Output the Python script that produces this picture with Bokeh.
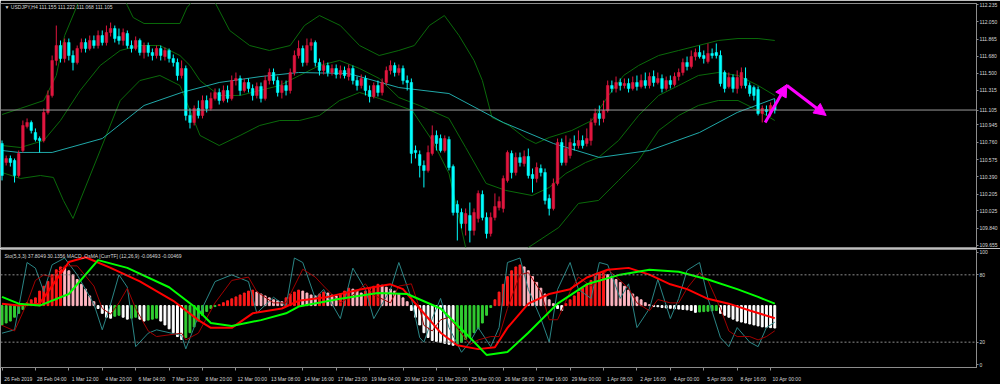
from bokeh.plotting import figure
from bokeh.layouts import column
from bokeh.models import (Range1d, FixedTicker, Span, Label, Arrow, NormalHead,
                          NumeralTickFormatter, ColumnDataSource)
from bokeh.embed import file_html
from bokeh.resources import INLINE

# ---------------- data ----------------
symbol_title = "\u25bc USDJPY,H4  111.155 111.222 111.068 111.105"
osc_title = "Sto(5,3,3) 37.8049 30.1356  MACD_OsMA [CurrTF] (12,26,9) -0.06493 -0.00469"
last_price = 111.105
price_ticks = [112.235, 112.050, 111.865, 111.680, 111.500, 111.315, 111.105, 110.945, 110.760,
               110.575, 110.390, 110.205, 110.025, 109.840, 109.655]
osc_ticks = [0, 20, 80, 100]
osc_levels = [80, 20]
time_labels = ["26 Feb 2019", "28 Feb 04:00", "1 Mar 12:00", "4 Mar 20:00", "6 Mar 04:00",
               "7 Mar 12:00", "8 Mar 20:00", "12 Mar 00:00", "13 Mar 08:00", "14 Mar 16:00",
               "17 Mar 23:00", "19 Mar 04:00", "20 Mar 12:00", "21 Mar 20:00", "25 Mar 00:00",
               "26 Mar 08:00", "27 Mar 16:00", "29 Mar 00:00", "1 Apr 08:00", "2 Apr 16:00",
               "4 Apr 00:00", "5 Apr 08:00", "8 Apr 16:00", "10 Apr 00:00"]
time_tick_bars = [8 * k for k in range(len(time_labels))]

opens = [110.747,110.543,110.586,110.565,110.404,110.672,110.929,110.972,110.865,110.800,
         110.779,111.079,111.261,111.636,111.796,111.657,111.828,111.689,111.614,111.764,
         111.828,111.764,111.850,111.796,111.903,111.828,111.935,111.978,111.893,111.850,
         111.925,111.796,111.764,111.850,111.721,111.796,111.721,111.689,111.764,111.678,
         111.743,111.657,111.614,111.475,111.550,111.047,110.972,111.122,111.047,111.207,
         111.122,111.229,111.293,111.207,111.314,111.229,111.421,111.443,111.314,111.400,
         111.336,111.261,111.357,111.229,111.421,111.507,111.421,111.293,111.368,111.314,
         111.507,111.689,111.764,111.614,111.796,111.828,111.614,111.529,111.582,111.507,
         111.550,111.486,111.529,111.464,111.550,111.421,111.368,111.443,111.314,111.250,
         111.368,111.293,111.400,111.529,111.582,111.507,111.550,111.421,111.400,110.672,
         110.629,110.511,110.458,110.640,110.833,110.800,110.672,110.790,110.500,110.094,
         110.008,109.890,109.976,109.816,109.944,110.201,109.955,109.783,109.955,110.062,
         110.051,110.351,110.640,110.436,110.597,110.533,110.608,110.415,110.372,110.479,
         110.436,110.158,110.051,110.319,110.758,110.543,110.618,110.747,110.725,110.779,
         110.747,110.779,110.972,111.068,111.015,111.100,111.368,111.336,111.400,111.368,
         111.389,111.336,111.400,111.357,111.421,111.368,111.464,111.400,111.443,111.336,
         111.421,111.379,111.464,111.507,111.614,111.571,111.678,111.721,111.689,111.625,
         111.711,111.721,111.689,111.507,111.357,111.454,111.336,111.368,111.443,111.368,
         111.346,111.325,111.068,111.111,111.079,111.155]
highs = [110.779,110.618,110.618,110.586,110.672,110.993,111.015,110.993,110.908,110.822,
         111.122,111.314,111.689,112.010,111.850,111.871,111.871,111.743,111.796,111.871,
         111.871,111.903,111.903,111.957,111.957,112.010,112.042,112.010,111.978,111.978,
         111.957,111.850,111.893,111.871,111.828,111.828,111.764,111.796,111.796,111.775,
         111.764,111.700,111.657,111.636,111.582,111.122,111.154,111.207,111.261,111.261,
         111.293,111.336,111.336,111.368,111.368,111.475,111.507,111.475,111.443,111.443,
         111.379,111.400,111.400,111.475,111.550,111.550,111.464,111.421,111.421,111.550,
         111.743,111.850,111.796,111.871,111.871,111.850,111.657,111.636,111.614,111.593,
         111.593,111.582,111.571,111.593,111.582,111.464,111.486,111.475,111.368,111.400,
         111.421,111.443,111.571,111.636,111.614,111.593,111.582,111.475,111.443,110.725,
         110.672,110.565,110.725,110.940,110.886,110.843,110.833,110.822,110.522,110.137,
         110.051,110.051,110.115,110.051,110.244,110.244,110.008,110.008,110.212,110.179,
         110.404,110.672,110.672,110.650,110.650,110.672,110.693,110.479,110.543,110.522,
         110.479,110.201,110.372,110.800,110.800,110.833,110.800,110.833,110.886,110.833,
         110.908,111.015,111.122,111.154,111.207,111.421,111.421,111.464,111.443,111.443,
         111.443,111.464,111.475,111.486,111.507,111.507,111.529,111.507,111.486,111.464,
         111.475,111.507,111.550,111.657,111.678,111.743,111.764,111.796,111.743,111.818,
         111.764,111.818,111.743,111.529,111.507,111.486,111.529,111.561,111.561,111.400,
         111.368,111.357,111.154,111.154,111.186,111.222]
lows = [110.351,110.511,110.500,110.329,110.383,110.650,110.908,110.854,110.768,110.650,
        110.758,111.057,111.239,111.582,111.614,111.614,111.636,111.529,111.593,111.721,
        111.721,111.743,111.764,111.764,111.796,111.796,111.893,111.828,111.807,111.796,
        111.764,111.721,111.743,111.689,111.657,111.678,111.636,111.657,111.636,111.636,
        111.614,111.571,111.421,111.443,110.993,110.908,110.940,111.015,111.015,111.079,
        111.100,111.207,111.164,111.186,111.186,111.207,111.368,111.261,111.293,111.293,
        111.207,111.229,111.186,111.207,111.379,111.379,111.250,111.229,111.261,111.282,
        111.475,111.657,111.571,111.582,111.743,111.571,111.475,111.486,111.464,111.475,
        111.443,111.443,111.443,111.421,111.379,111.314,111.336,111.261,111.186,111.229,
        111.250,111.261,111.368,111.486,111.464,111.475,111.379,111.314,110.533,110.586,
        110.383,110.276,110.436,110.618,110.672,110.650,110.650,110.458,109.976,109.708,
        109.837,109.762,109.687,109.762,109.901,109.923,109.730,109.751,109.923,110.030,
        110.008,110.329,110.372,110.404,110.500,110.500,110.372,110.222,110.329,110.394,
        110.094,109.976,110.030,110.297,110.511,110.511,110.586,110.672,110.693,110.693,
        110.715,110.725,110.940,110.940,110.972,111.079,111.293,111.293,111.314,111.336,
        111.293,111.314,111.314,111.336,111.336,111.336,111.357,111.379,111.293,111.314,
        111.336,111.357,111.421,111.475,111.529,111.550,111.636,111.657,111.603,111.603,
        111.657,111.657,111.357,111.293,111.336,111.293,111.282,111.336,111.336,111.250,
        111.207,111.047,110.972,111.047,111.036,111.068]
closes = [110.404,110.586,110.543,110.404,110.640,110.940,110.972,110.886,110.790,110.779,
          111.079,111.261,111.636,111.796,111.657,111.828,111.689,111.614,111.764,111.828,
          111.764,111.850,111.796,111.903,111.828,111.935,111.978,111.871,111.850,111.935,
          111.796,111.764,111.850,111.721,111.796,111.721,111.689,111.764,111.689,111.743,
          111.657,111.614,111.475,111.550,111.047,110.972,111.122,111.047,111.207,111.122,
          111.229,111.293,111.207,111.314,111.229,111.421,111.443,111.314,111.400,111.336,
          111.261,111.357,111.229,111.421,111.507,111.421,111.293,111.368,111.314,111.507,
          111.689,111.764,111.614,111.796,111.828,111.614,111.529,111.582,111.507,111.550,
          111.486,111.529,111.475,111.550,111.421,111.368,111.443,111.314,111.250,111.368,
          111.293,111.400,111.529,111.582,111.507,111.550,111.421,111.400,110.640,110.650,
          110.511,110.458,110.650,110.833,110.747,110.672,110.800,110.490,110.008,110.008,
          109.890,109.997,109.816,110.008,110.212,109.955,109.783,109.955,110.072,110.126,
          110.372,110.650,110.436,110.597,110.543,110.608,110.404,110.372,110.490,110.436,
          110.137,110.051,110.319,110.758,110.543,110.693,110.758,110.725,110.779,110.725,
          110.800,110.972,111.068,111.015,111.100,111.368,111.336,111.400,111.368,111.389,
          111.336,111.400,111.357,111.421,111.368,111.464,111.400,111.443,111.336,111.421,
          111.379,111.464,111.507,111.614,111.571,111.678,111.721,111.678,111.657,111.711,
          111.689,111.689,111.389,111.336,111.454,111.336,111.454,111.507,111.368,111.282,
          111.261,111.068,111.122,111.090,111.154,111.105]

ma_bar = [0, 4, 12, 24, 34, 43, 52, 62, 71, 83, 95, 107, 120, 132, 143, 155, 167, 176, 185]
ma_price = [110.672, 110.651, 110.651, 110.800, 111.154, 111.293, 111.400, 111.464, 111.507,
            111.496, 111.346, 111.282, 110.972, 110.747, 110.597, 110.672, 110.865, 111.079, 111.229]

bb_up_bar = [0, 4.4, 10, 13, 15, 18, 21, 25, 28, 30, 31.4, 34, 42.6, 44.3, 47.4, 51, 54.5, 59.3,
             64, 69, 72.4, 76, 81, 85.6, 90.3, 95, 98.7, 102.3, 105.9, 109.4, 113, 115, 117.3,
             121.4, 125.4, 127.8, 131, 136.4, 141.2, 145.2, 148.8, 152.4, 157.2, 162, 166.7,
             171.5, 176.2, 181, 185]
bb_up = [111.057, 111.122, 111.207, 111.475, 111.903, 112.225, 112.599, 112.653, 112.439,
         112.225, 112.096, 112.032, 112.032, 112.203, 112.364, 112.257, 111.957, 111.796,
         111.743, 111.796, 112.010, 112.117, 112.010, 111.796, 111.689, 111.743, 111.796,
         112.010, 112.117, 111.903, 111.636, 111.421, 111.025, 110.940, 110.800, 110.747,
         110.811, 110.886, 110.993, 111.261, 111.475, 111.582, 111.689, 111.743, 111.796,
         111.850, 111.871, 111.871, 111.850]
bb_mid_bar = [0, 4.4, 10, 14, 18.7, 23.5, 28.3, 33, 37.8, 42.6, 45, 47.4, 52, 57, 61.7, 66.5,
              71.2, 76, 80.8, 85.6, 90.3, 95, 99.9, 107, 111, 115.9, 120.6, 126.9, 131, 135,
              139.7, 142.8, 147.6, 152.4, 157.2, 162, 166.7, 171.5, 176.2, 181, 185]
bb_mid = [110.725, 110.704, 110.779, 110.993, 111.314, 111.582, 111.743, 111.796, 111.796,
          111.689, 111.582, 111.421, 111.261, 111.261, 111.314, 111.368, 111.475, 111.582,
          111.636, 111.550, 111.443, 111.239, 111.154, 111.015, 110.704, 110.319, 110.244,
          110.190, 110.276, 110.426, 110.543, 110.597, 110.779, 111.047, 111.261, 111.368,
          111.475, 111.507, 111.475, 111.368, 111.261]
bb_lo_bar = [0, 4.4, 9.2, 12.3, 14.7, 17, 18.7, 23.5, 28.3, 33, 37.8, 42.6, 45, 47.4, 52, 57,
             61.7, 66.5, 71.2, 76, 80.8, 85.6, 90.3, 95, 98.2, 103, 107, 111, 114, 119, 122.6,
             126, 133.3, 138, 142.8, 147.6, 152.4, 157.2, 162, 166.7, 171.5, 176.2, 181, 185]
bb_lo = [110.436, 110.372, 110.404, 110.383, 110.137, 109.944, 110.137, 110.672, 111.207,
         111.421, 111.475, 111.368, 111.100, 110.833, 110.725, 110.833, 110.940, 110.993,
         110.993, 111.047, 111.207, 111.293, 111.229, 111.154, 111.100, 110.779, 110.426,
         109.633, 109.387, 109.334, 109.441, 109.633, 109.848, 110.105, 110.137, 110.351,
         110.565, 110.886, 111.047, 111.154, 111.207, 111.207, 111.100, 110.993]

sto_bar = [0, 3, 6, 8, 10, 12, 15, 18, 22, 24, 26, 28, 30, 32, 35, 37, 43, 44, 47, 51, 55, 59,
           61, 65, 68, 70, 72, 75, 77, 81, 84, 87, 89, 93, 95, 98, 100, 101, 103, 105, 107, 110,
           112, 114, 117, 119, 121, 124, 126, 129, 131, 133, 136, 138, 141, 143, 145, 148, 150,
           152, 155, 157, 160, 162, 164, 167, 169, 172, 174, 176, 179, 181, 183, 185]
sto_main = [28, 31, 91, 86, 65, 89, 95, 80, 54, 31, 54, 80, 69, 16, 28, 31, 26, 14, 43, 74, 80,
            74, 46, 60, 52, 95, 91, 59, 67, 41, 86, 67, 41, 67, 91, 59, 24, 20, 41, 59, 33, 11,
            20, 33, 16, 33, 91, 95, 67, 41, 20, 67, 91, 67, 59, 91, 89, 59, 72, 33, 50, 76, 41,
            59, 84, 91, 59, 24, 16, 33, 20, 16, 33, 37.8]
sto_signal = [35, 30, 55, 75, 80, 78, 88, 88, 70, 50, 45, 55, 68, 50, 30, 25, 28, 22, 28, 55,
              75, 78, 65, 55, 55, 70, 85, 78, 70, 55, 62, 72, 62, 55, 70, 72, 50, 35, 30, 40, 42,
              28, 18, 22, 25, 25, 50, 80, 82, 65, 40, 40, 65, 78, 70, 75, 85, 75, 68, 55, 48, 58,
              55, 55, 68, 82, 75, 50, 30, 25, 25, 22, 25, 30.1]

macd_bar = [0, 4, 9, 16, 20, 26, 33, 41, 47, 50, 55, 60, 67, 71, 78, 86, 93, 96, 100, 105, 109,
            114, 118, 121, 126, 131, 136, 140, 145, 150, 155, 160, 164, 169, 174, 179, 185]
macd_main = [0.01, 0.0, 0.01, 0.225, 0.25, 0.195, 0.125, 0.025, -0.075, -0.115, -0.115, -0.04,
             -0.015, 0.025, 0.045, 0.085, 0.11, 0.085, -0.015, -0.14, -0.205, -0.225, -0.215,
             -0.115, 0.01, 0.06, 0.085, 0.145, 0.185, 0.195, 0.16, 0.11, 0.085, 0.035, 0.01,
             -0.025, -0.065]
sig_bar = [0, 4, 9, 16, 23, 30, 40, 46, 50, 55, 62, 68, 71, 81, 90, 97, 105, 112, 116, 121, 126,
           133, 140, 148, 155, 162, 169, 176, 181, 185]
macd_signal = [0.045, 0.01, 0.0, 0.06, 0.235, 0.195, 0.095, -0.005, -0.09, -0.105, -0.075, -0.04,
               -0.005, 0.035, 0.065, 0.06, -0.015, -0.165, -0.255, -0.24, -0.14, 0.01, 0.11,
               0.16, 0.185, 0.175, 0.135, 0.085, 0.045, 0.01]
osma = [-0.10, -0.09, -0.08, -0.06, -0.04, -0.02,
        0.015, 0.03, 0.04, 0.075, 0.10, 0.125, 0.16, 0.185, 0.20,
        0.195, 0.18, 0.16, 0.135, 0.11, 0.085, 0.05, 0.02,
        -0.015, -0.04, -0.06, -0.065, -0.055, -0.05, -0.06, -0.07, -0.065, -0.06, -0.07, -0.08,
        -0.075, -0.07, -0.065, -0.08, -0.10, -0.12, -0.14, -0.16, -0.175, -0.165, -0.14, -0.11,
        -0.08,
        -0.05, -0.03, -0.015, -0.005, 0.005,
        0.015, 0.025, 0.035, 0.045, 0.055, 0.065, 0.075, 0.08,
        0.07, 0.06, 0.05, 0.04, 0.03, 0.025, 0.02,
        0.04, 0.06, 0.07, 0.08,
        0.075, 0.065, 0.055, 0.05, 0.06, 0.07, 0.065, 0.055, 0.05, 0.06, 0.075, 0.09, 0.085,
        0.075, 0.065, 0.075, 0.09, 0.10, 0.11, 0.105, 0.095, 0.085, 0.075, 0.06,
        0.04, 0.02, -0.025, -0.06, -0.10,
        -0.14, -0.165, -0.18, -0.185, -0.19, -0.195, -0.20, -0.205, -0.20, -0.19, -0.175, -0.16,
        -0.14, -0.12, -0.09,
        -0.05, -0.01, 0.03, 0.07, 0.11, 0.15, 0.18, 0.20, 0.21, 0.20,
        0.18, 0.15, 0.12, 0.09, 0.06, 0.03,
        0.01, -0.015, -0.025,
        0.01, 0.03, 0.05, 0.07, 0.09, 0.11, 0.13, 0.15, 0.165, 0.17, 0.16, 0.15,
        0.135, 0.12, 0.10, 0.08, 0.06, 0.045, 0.03, 0.015, 0.005,
        -0.005, -0.006, -0.01, -0.012, -0.014, -0.016, -0.018, -0.02, -0.022, -0.025,
        -0.035, -0.033, -0.031, -0.029, -0.027, -0.025,
        -0.04, -0.05, -0.06, -0.07, -0.08, -0.085, -0.09, -0.095, -0.10, -0.105, -0.11, -0.112,
        -0.114, -0.116]

arrow_x0 = [182.7, 187.9]
arrow_y0 = [110.972, 111.368]
arrow_x1 = [187.9, 197.3]
arrow_y1 = [111.378, 111.047]

# ---------------- styling / layout ----------------
FONT = "Liberation Sans"
BAR_PX = 4.19
RIGHT = 21
TOP_H = 248
GRID = "#8c8c8c"
TXT = "#d9d9d9"
UP = "#e0163f"
DN = "#00ffff"

x0 = -0.36
x1 = x0 + (1000 - RIGHT) / BAR_PX
y_lo, y_hi = 109.633, 112.246

bars = list(range(len(opens)))
colors = [UP if c >= o else DN for o, c in zip(opens, closes)]
src = ColumnDataSource(dict(x=bars, h=highs, l=lows,
                            top=[max(o, c) for o, c in zip(opens, closes)],
                            bottom=[min(o, c) for o, c in zip(opens, closes)],
                            color=colors))

top = figure(width=1000, height=TOP_H, x_range=Range1d(x0, x1),
             y_range=Range1d(y_lo, y_hi), output_backend="svg",
             toolbar_location=None, x_axis_location=None, y_axis_location="right",
             min_border_left=0, min_border_right=RIGHT, min_border_top=3, min_border_bottom=1,
             background_fill_color="black", border_fill_color="black",
             outline_line_color=GRID)
top.grid.visible = False
ya = top.yaxis[0]
ya.ticker = FixedTicker(ticks=price_ticks)
ya.formatter = NumeralTickFormatter(format="0.000")
ya.axis_line_color = GRID
ya.major_tick_line_color = GRID
ya.major_tick_out = 2
ya.major_tick_in = 0
ya.minor_tick_line_color = None
ya.major_label_standoff = 1
ya.major_label_text_font = FONT
ya.major_label_text_font_size = "5px"
ya.major_label_text_color = TXT

top.add_layout(Span(location=last_price, dimension="width", line_color="#9a9a9a", line_width=1))

top.line(bb_up_bar, bb_up, color="#0a6a0a", line_width=1)
top.line(bb_mid_bar, bb_mid, color="#0a6a0a", line_width=1)
top.line(bb_lo_bar, bb_lo, color="#0a6a0a", line_width=1)
top.line(ma_bar, ma_price, color="#20a8a8", line_width=1)

top.segment(x0="x", y0="h", x1="x", y1="l", color="color", line_width=1, source=src)
top.vbar(x="x", width=0.62, top="top", bottom="bottom", fill_color="color",
         line_color="color", line_width=0.5, source=src)

for xa, ya0, xb, yb in zip(arrow_x0, arrow_y0, arrow_x1, arrow_y1):
    top.add_layout(Arrow(end=NormalHead(size=12, fill_color="#ff00ff", line_color="#ff00ff"),
                         x_start=xa, y_start=ya0, x_end=xb, y_end=yb,
                         line_color="#ff00ff", line_width=3))

top.add_layout(Label(x=0.6, y=112.205, text=symbol_title, text_font=FONT,
                     text_font_size="5px", text_color=TXT, text_baseline="middle"))

bot = figure(width=1000, height=136, x_range=top.x_range, y_range=Range1d(-2.59, 102.59),
             output_backend="svg", toolbar_location=None, y_axis_location="right",
             min_border_left=0, min_border_right=RIGHT, min_border_top=1, min_border_bottom=13,
             background_fill_color="black", border_fill_color="black",
             outline_line_color=GRID)
bot.extra_y_ranges = {"macd": Range1d(-0.32, 0.29)}
bot.grid.visible = False
yb_ax = bot.yaxis[0]
yb_ax.ticker = FixedTicker(ticks=osc_ticks)
yb_ax.axis_line_color = GRID
yb_ax.major_tick_line_color = GRID
yb_ax.major_tick_out = 2
yb_ax.major_tick_in = 0
yb_ax.minor_tick_line_color = None
yb_ax.major_label_standoff = 1
yb_ax.major_label_text_font = FONT
yb_ax.major_label_text_font_size = "5px"
yb_ax.major_label_text_color = TXT

label_pos = [t + 3.9 for t in time_tick_bars]
xa_ax = bot.xaxis[0]
xa_ax.ticker = FixedTicker(ticks=label_pos, minor_ticks=time_tick_bars)
xa_ax.major_label_overrides = {p: s for p, s in zip(label_pos, time_labels)}
xa_ax.axis_line_color = GRID
xa_ax.major_tick_line_color = None
xa_ax.minor_tick_line_color = GRID
xa_ax.minor_tick_out = 3
xa_ax.minor_tick_in = 0
xa_ax.major_label_standoff = 2
xa_ax.major_label_text_font = FONT
xa_ax.major_label_text_font_size = "5px"
xa_ax.major_label_text_color = TXT

for lv in osc_levels:
    bot.add_layout(Span(location=lv, dimension="width", line_color="#8c8c8c",
                        line_dash="2 2", line_width=1))

# OsMA colouring: above zero red rising / pink falling; below zero white falling / green rising
hcolors = []
prev = osma[0]
for v in osma:
    if v >= 0:
        hcolors.append("#ff1a1a" if v >= prev else "#ffb6c1")
    else:
        hcolors.append("#ffffff" if v < prev else "#32cd32")
    prev = v
bot.vbar(x=bars, width=0.45, top=osma, bottom=0, color=hcolors, y_range_name="macd")

bot.line(sto_bar, sto_main, color="#2a8585", line_width=1)
bot.line(sto_bar, sto_signal, color="#a00000", line_width=1)
bot.line(macd_bar, macd_main, color="#ff0000", line_width=2, y_range_name="macd")
bot.line(sig_bar, macd_signal, color="#00ff00", line_width=2, y_range_name="macd")

bot.add_layout(Label(x=0.6, y=96.5, text=osc_title, text_font=FONT, text_font_size="5px",
                     text_color=TXT, text_baseline="middle"))

layout = column(top, bot, spacing=0)
open("out.html", "w").write(file_html(layout, INLINE))
